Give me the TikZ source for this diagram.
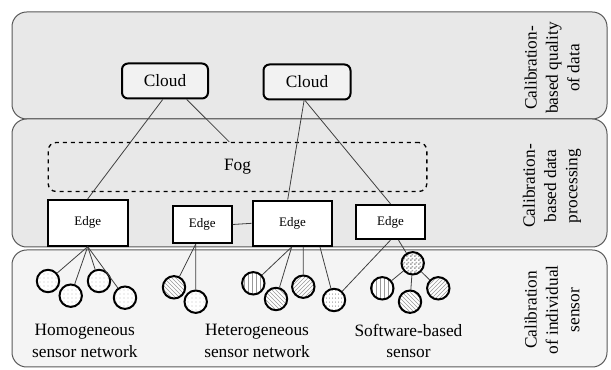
\documentclass[tikz,border=0pt]{standalone}
\usepackage{fontspec}
\setmainfont{Liberation Serif}
\usepackage{tikz}
\usetikzlibrary{positioning,patterns}

\pgfdeclarepatternformonly{smallchecker}{\pgfpointorigin}{\pgfqpoint{2.6pt}{2.6pt}}{\pgfqpoint{2.6pt}{2.6pt}}{%
  \pgfpathrectangle{\pgfpointorigin}{\pgfqpoint{1.3pt}{1.3pt}}%
  \pgfpathrectangle{\pgfqpoint{1.3pt}{1.3pt}}{\pgfqpoint{1.3pt}{1.3pt}}%
  \pgfusepath{fill}}
\pgfdeclarepatternformonly{vdashes}{\pgfpointorigin}{\pgfqpoint{2.4pt}{2.6pt}}{\pgfqpoint{2.4pt}{2.6pt}}{%
  \pgfpathrectangle{\pgfpointorigin}{\pgfqpoint{0.5pt}{1.4pt}}%
  \pgfusepath{fill}}

\tikzset{
  layer/.style={draw=black!65, line width=0.75pt, rounded corners=11pt, fill=gray!18},
  cloudbox/.style={draw, line width=1.5pt, rounded corners=4.5pt, fill=gray!10, minimum width=64.5pt, minimum height=26.25pt, font=\fontsize{13}{15}\selectfont},
  edgebox/.style={draw, line width=1.5pt, fill=white, font=\fontsize{9.75}{11}\selectfont},
  sensor/.style={draw, circle, line width=1.5pt, minimum size=16.8pt, inner sep=0pt, preaction={fill=white}},
  link/.style={draw=black!75, line width=0.6pt},
  caption/.style={align=center, font=\fontsize{13}{16}\selectfont},
}

\begin{document}
\begin{tikzpicture}[x=0.75pt,y=-0.75pt]
\useasboundingbox (0,0) rectangle (611,370);
% layers
\draw[layer] (12,12) rectangle (607,119);
\draw[layer] (12,119) rectangle (607,247);
\draw[layer, fill=gray!9] (12,250) rectangle (607,367);
\node[caption, rotate=90] (qual) at (552,68) {Calibration-\\based quality\\of data};
\node[caption, rotate=90] (proc) at (552,186) {Calibration-\\based data\\processing};
\node[caption, rotate=90] (indiv) at (552,310) {Calibration\\of individual\\sensor};

\node[cloudbox] (cloudA) at (165,81) {Cloud};
\node[cloudbox, minimum width=65.25pt] (cloudB) at (307,82) {Cloud};
\node[draw, dashed, line width=1pt, rounded corners=6pt, minimum width=284pt, minimum height=36.75pt, font=\fontsize{13}{15}\selectfont] (fog) at (237.5,167) {Fog};

\node[edgebox, minimum width=60pt, minimum height=34.3pt] (edgeA) at (87.7,222.8) {Edge};
\node[edgebox, minimum width=44.3pt, minimum height=28.2pt] (edgeB) at (202.2,224.5) {Edge};
\node[edgebox, minimum width=59.7pt, minimum height=34pt] (edgeC) at (292.5,223.3) {Edge};
\node[edgebox, minimum width=51.75pt, minimum height=25.7pt] (edgeD) at (390.5,222) {Edge};

\draw[link] ([xshift=-1.7pt]cloudA.south) -- (edgeA.north);
\draw[link] ([xshift=16.3pt]cloudA.south) -- ([xshift=-6.2pt]fog.north);
\draw[link] ([xshift=-2.2pt]cloudB.south) -- ([xshift=-3.6pt]edgeC.north);
\draw[link] ([xshift=-1.5pt]cloudB.south) -- (edgeD.north);
\draw[link] (edgeB.east) -- (edgeC.west);

% sensors
\node[sensor, pattern=dots, pattern color=gray!50] (h1) at (48,281) {};
\node[sensor, pattern=dots, pattern color=gray!50] (h2) at (70.7,295.7) {};
\node[sensor, pattern=dots, pattern color=gray!50] (h3) at (99,281) {};
\node[sensor, pattern=dots, pattern color=gray!50] (h4) at (125,297.7) {};
\node[sensor, pattern=north west lines, pattern color=gray!80] (a1) at (174,287.3) {};
\node[sensor, pattern=dots, pattern color=gray!50] (a2) at (195.7,301.7) {};
\node[sensor, pattern=vertical lines, pattern color=gray!80] (b1) at (253.3,283.3) {};
\node[sensor, pattern=north west lines, pattern color=gray!80] (b2) at (276,299) {};
\node[sensor, pattern=north east lines, pattern color=gray!80] (b3) at (303.3,286.7) {};
\node[sensor, pattern=vdashes, pattern color=gray!80] (b4) at (334,300) {};
\node[sensor, pattern=smallchecker, pattern color=gray!70] (st) at (412.7,263.3) {};
\node[sensor, pattern=vertical lines, pattern color=gray!80] (sl) at (382.3,288.3) {};
\node[sensor, pattern=north west lines, pattern color=gray!80] (sb) at (410,301.7) {};
\node[sensor, pattern=north east lines, pattern color=gray!80] (sr) at (438.3,288.3) {};

\foreach \s in {h1,h2,h3,h4}
  \draw[link] (edgeA.south) -- (\s);
\draw[link] ([xshift=-4.9pt]edgeB.south) -- (a1);
\draw[link] ([xshift=-4.9pt]edgeB.south) -- (a2);
\draw[link] ([xshift=-0.6pt]edgeC.south) -- (b1);
\draw[link] ([xshift=-0.6pt]edgeC.south) -- (b2);
\draw[link] ([xshift=8.1pt]edgeC.south) -- (b3);
\draw[link] ([xshift=20.6pt]edgeC.south) -- (b4);
\draw[link] (edgeD.south) -- (b4);
\draw[link] ([xshift=6pt]edgeD.south) -- (st);
\foreach \s in {sl,sb,sr}
  \draw[link] (st) -- (\s);

\node[caption] (homog) at (84.8,341) {Homogeneous\\sensor network};
\node[caption] (heter) at (257,341) {Heterogeneous\\sensor network};
\node[caption] (soft) at (408.5,341) {Software-based\\sensor};
\end{tikzpicture}
\end{document}
